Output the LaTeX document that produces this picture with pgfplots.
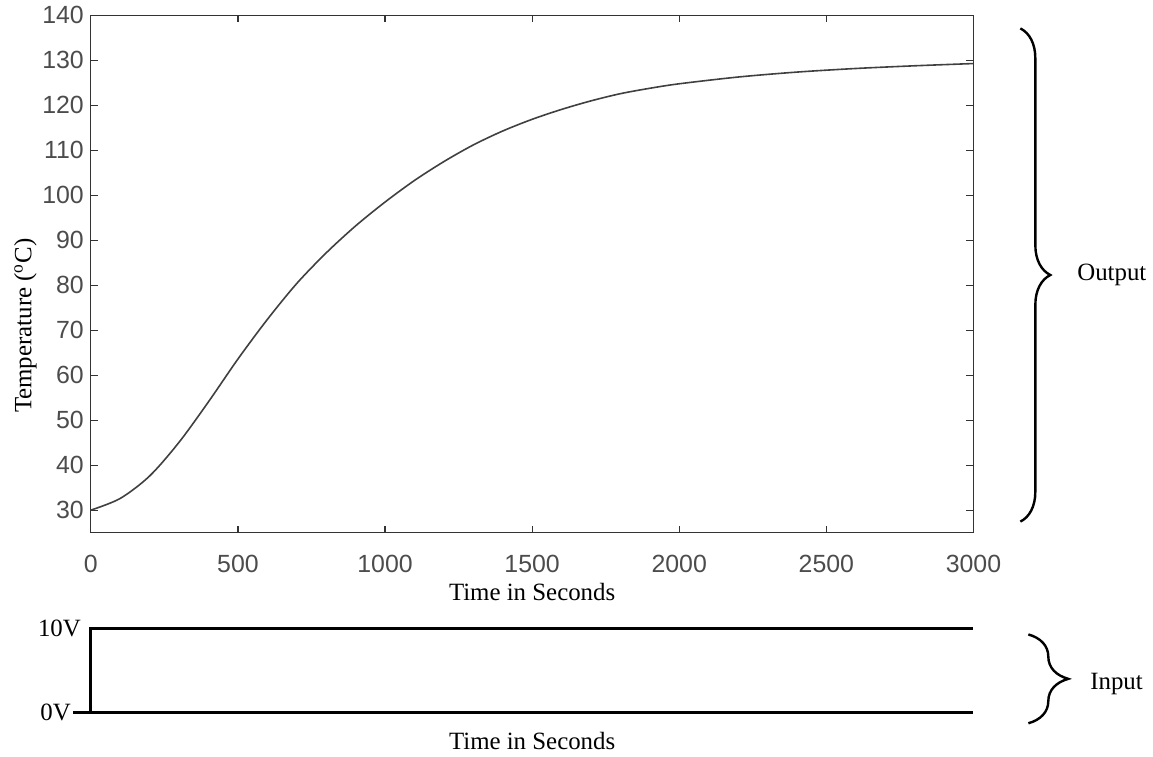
\documentclass[border=0pt]{standalone}
\usepackage{fontspec}
\setmainfont{Liberation Serif}
\setsansfont{Liberation Sans}
\usepackage{pgfplots}
\pgfplotsset{compat=1.18}
\usetikzlibrary{decorations.pathreplacing}

\pgfplotstableread{
t     temp
0     30.0
100   32.6
200   37.6
300   45.1
400   54.1
500   63.6
600   72.4
700   80.4
800   87.2
900   93.2
1000  98.5
1100  103.3
1200  107.5
1300  111.2
1400  114.3
1500  116.9
1600  119.1
1700  121.0
1800  122.6
1900  123.8
2000  124.8
2200  126.3
2400  127.4
2600  128.2
2800  128.8
3000  129.3
}\tempdata

\begin{document}
\begin{tikzpicture}[font=\fontsize{12.5}{15}\selectfont]
\path (-45.5bp,-111bp) rectangle (531bp,266.5bp);

\begin{axis}[
    scale only axis,
    width=442bp, height=259bp,
    xmin=0, xmax=3000,
    ymin=25, ymax=140,
    xtick={0,500,...,3000},
    ytick={30,40,...,140},
    tick align=inside,
    major tick length=3.5bp,
    axis line style={black!80, line width=0.6bp},
    tick style={black!80, line width=0.6bp},
    tick label style={font=\sffamily\fontsize{12.5}{15}\selectfont, text=black!70},
    xticklabel style={yshift=-8bp},
    /pgf/number format/assume math mode=true,
    /pgf/number format/1000 sep={},
    xlabel={Time in Seconds},
    xlabel style={yshift=2bp},
    ylabel={Temperature (\textsuperscript{o}C)},
    ylabel style={at={(ticklabel cs:0.4)}, yshift=-4bp},
    clip=false,
]
\addplot[black!75, line width=0.8bp, smooth] table[x=t, y=temp] {\tempdata};
\end{axis}

\begin{axis}[
    at={(0,-48bp)}, anchor=north west,
    scale only axis,
    width=442bp, height=42bp,
    xmin=0, xmax=3000,
    ymin=0, ymax=10,
    hide axis,
    clip=false,
]
\addplot[black, line width=1.6bp] coordinates {(-60,0) (3000,0)};
\addplot[black, line width=1.6bp] coordinates {(0,0) (0,10) (3000,10)};
\node[anchor=east] at (axis cs:0,10) [xshift=-1.5bp] {10V};
\node[anchor=east, inner sep=1bp] at (axis cs:-60,0) {0V};
\node[anchor=base] at (axis cs:1500,0) [yshift=-18.5bp] {Time in Seconds};
\end{axis}

\draw[line width=1.2bp, decorate, decoration={brace, amplitude=15bp}]
    (465.5bp,252.5bp) -- (465.5bp,5.5bp);
\node[anchor=west] at (490.5bp,129bp) {Output};
\draw[line width=1.2bp, decorate, decoration={brace, amplitude=20bp}]
    (469.5bp,-51bp) -- (469.5bp,-95.5bp);
\node[anchor=west] at (497bp,-76bp) {Input};
\end{tikzpicture}
\end{document}
